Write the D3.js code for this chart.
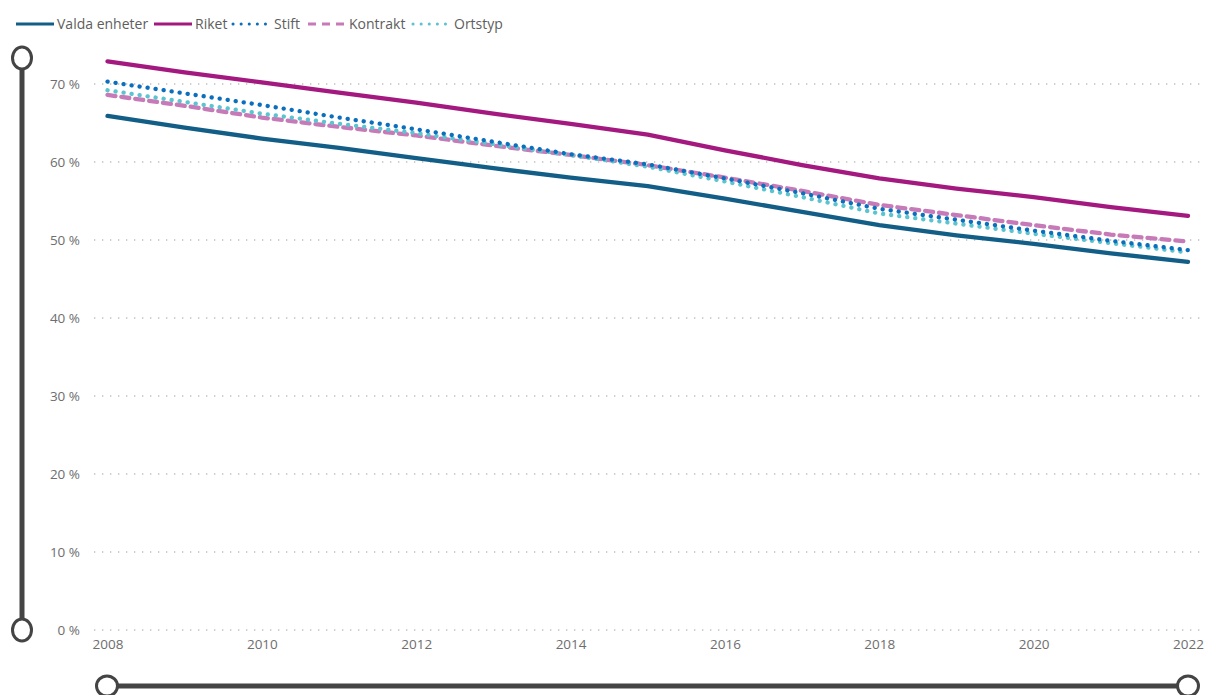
<!DOCTYPE html>
<html>
<head>
<meta charset="utf-8">
<title>Andel per år</title>
<style>
  body { margin: 0; background: #fff; overflow: hidden; }
  text { font-family: "Open Sans", "Noto Sans", sans-serif; }
  .grid line { stroke: #bdbdbd; stroke-width: 1.3; stroke-dasharray: 1.3 6.7; }
  .tick text { fill: #6e6e6e; font-size: 13.5px; }
</style>
</head>
<body>
<script src="https://cdn.jsdelivr.net/npm/d3@7/dist/d3.min.js"></script>
<script>
// data (percent)
var years = [2008, 2009, 2010, 2011, 2012, 2013, 2014, 2015, 2016, 2017, 2018, 2019, 2020, 2021, 2022];
var valda    = [65.9, 64.4, 63.0, 61.8, 60.5, 59.2, 58.0, 56.9, 55.3, 53.6, 51.9, 50.6, 49.5, 48.3, 47.2];
var riket    = [72.9, 71.5, 70.2, 68.9, 67.6, 66.2, 64.9, 63.5, 61.5, 59.6, 57.9, 56.6, 55.5, 54.2, 53.1];
var stift    = [70.3, 68.8, 67.3, 65.7, 64.2, 62.6, 61.0, 59.7, 57.9, 56.0, 54.0, 52.6, 51.2, 49.9, 48.7];
var kontrakt = [68.6, 67.2, 65.7, 64.5, 63.4, 62.1, 60.9, 59.6, 58.0, 56.3, 54.5, 53.2, 51.9, 50.7, 49.8];
var ortstyp  = [69.2, 67.7, 66.2, 64.9, 63.7, 62.3, 60.9, 59.4, 57.5, 55.5, 53.4, 52.1, 50.8, 49.6, 48.4];
var yTicks = [0, 10, 20, 30, 40, 50, 60, 70];
var xTicks = [2008, 2010, 2012, 2014, 2016, 2018, 2020, 2022];

var series = [
  { name: "Valda enheter", values: valda,    color: "#125e87", dash: null },
  { name: "Riket",         values: riket,    color: "#a4197f", dash: null },
  { name: "Stift",         values: stift,    color: "#0c6fbe", dash: "0.1 8" },
  { name: "Kontrakt",      values: kontrakt, color: "#c77ab8", dash: "8 6" },
  { name: "Ortstyp",       values: ortstyp,  color: "#5cc4cf", dash: "0.1 8" }
];

var W = 1206, H = 695;
var svg = d3.select("body").append("svg").attr("width", W).attr("height", H);

var x = d3.scaleLinear().domain([2008, 2022]).range([107.5, 1188]);
var y = d3.scaleLinear().domain([0, 70]).range([630, 84]);

// gridlines
svg.append("g").attr("class", "grid")
  .selectAll("line").data(yTicks).enter().append("line")
  .attr("x1", 94).attr("x2", 1200)
  .attr("y1", function(d) { return y(d); })
  .attr("y2", function(d) { return y(d); });

// y axis labels
var yAxis = d3.axisLeft(y).tickValues(yTicks).tickSize(0).tickPadding(0)
  .tickFormat(function(d) { return d + " %"; });
svg.append("g").attr("transform", "translate(80,0)").call(yAxis)
  .call(function(g) { g.select(".domain").remove(); });

// x axis labels
var xAxis = d3.axisBottom(x).tickValues(xTicks).tickSize(0).tickPadding(0)
  .tickFormat(d3.format("d"));
svg.append("g").attr("transform", "translate(0,639)").call(xAxis)
  .call(function(g) { g.select(".domain").remove(); });

// lines
var line = d3.line()
  .x(function(d, i) { return x(years[i]); })
  .y(function(d) { return y(d); });

var order = [3, 4, 2, 0, 1];
order.forEach(function(k) {
  var s = series[k];
  svg.append("path")
    .attr("d", line(s.values))
    .attr("fill", "none")
    .attr("stroke", s.color)
    .attr("stroke-width", 4.3)
    .attr("stroke-linecap", "round")
    .attr("stroke-linejoin", "round")
    .attr("stroke-dasharray", s.dash);
});

// legend
var legendX = [14, 152, 231, 306, 411];
var lg = svg.append("g");
series.forEach(function(s, i) {
  var g = lg.append("g").attr("transform", "translate(" + legendX[i] + ",24)");
  g.append("line").attr("x1", 2).attr("x2", 40).attr("y1", 0).attr("y2", 0)
    .attr("stroke", s.color).attr("stroke-width", 3)
    .attr("stroke-linecap", s.dash === "0.1 8" ? "round" : "butt")
    .attr("stroke-dasharray", s.dash);
  g.append("text").attr("x", 43).attr("y", 5)
    .attr("font-size", 14).attr("fill", "#605e5c")
    .text(s.name);
});

// range sliders
var slider = "#444";
svg.append("line").attr("x1", 22).attr("x2", 22).attr("y1", 58).attr("y2", 630)
  .attr("stroke", slider).attr("stroke-width", 5);
[58, 630].forEach(function(cy) {
  svg.append("ellipse").attr("cx", 22).attr("cy", cy).attr("rx", 9.5).attr("ry", 11)
    .attr("fill", "#fff").attr("stroke", slider).attr("stroke-width", 3);
});
svg.append("line").attr("x1", 107).attr("x2", 1188).attr("y1", 686).attr("y2", 686)
  .attr("stroke", slider).attr("stroke-width", 5);
[107, 1188].forEach(function(cx) {
  svg.append("ellipse").attr("cx", cx).attr("cy", 686).attr("rx", 10.5).attr("ry", 10)
    .attr("fill", "#fff").attr("stroke", slider).attr("stroke-width", 3);
});
</script>
</body>
</html>
